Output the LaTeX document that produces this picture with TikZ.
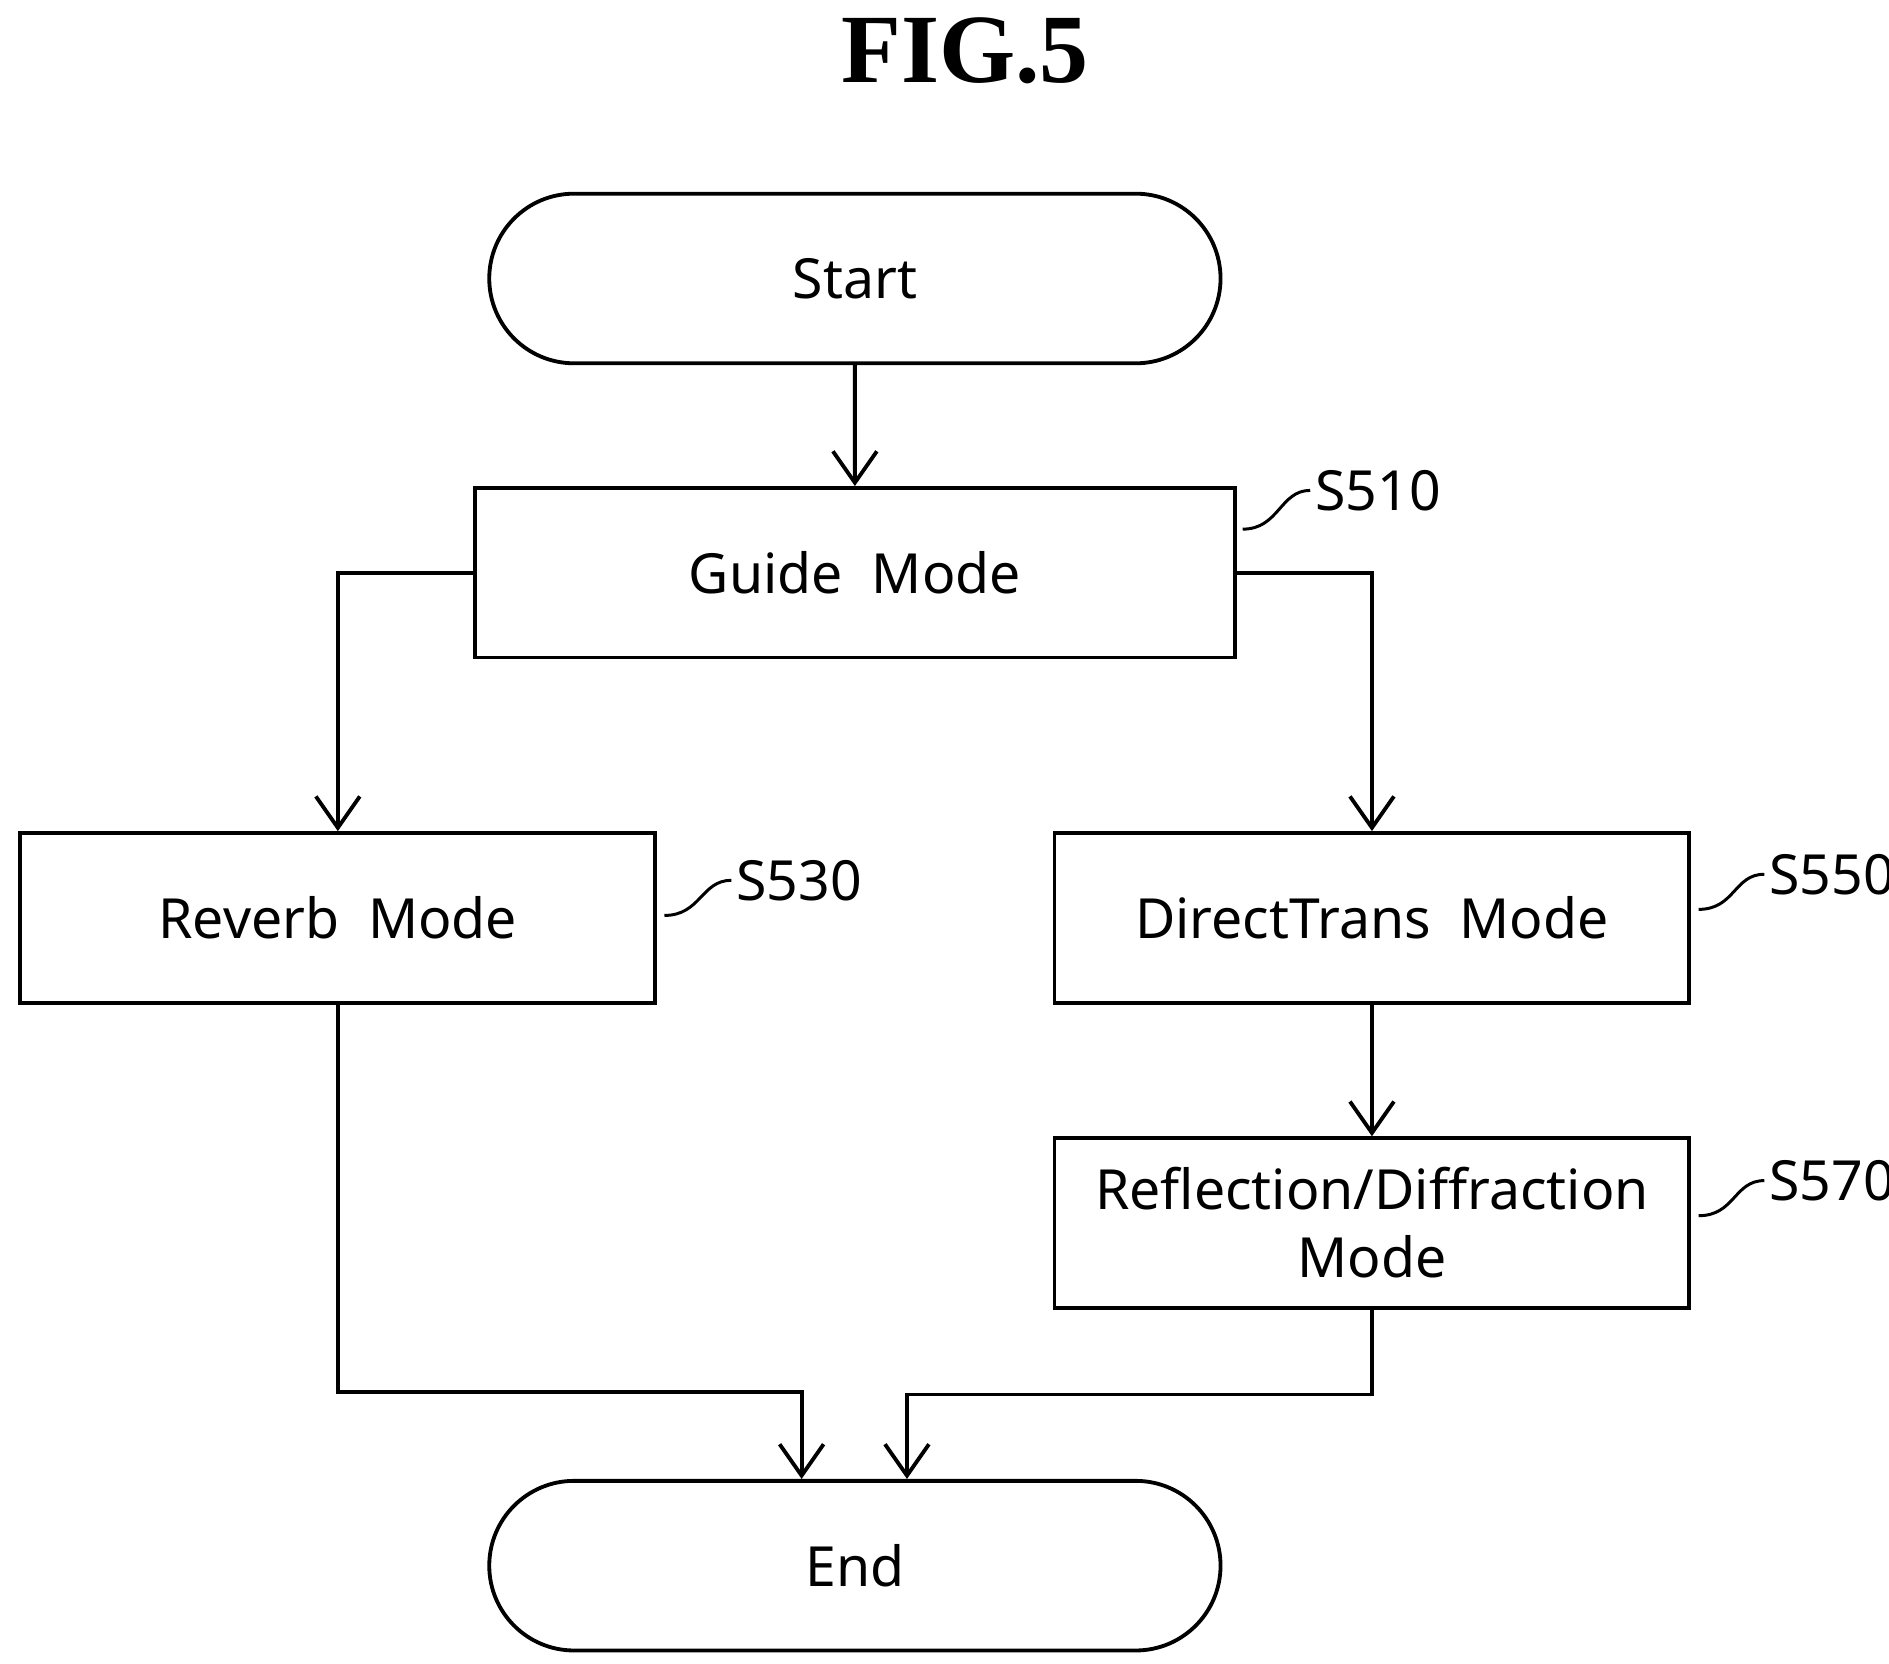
\documentclass[tikz,border=0pt]{standalone}
\usepackage{fontspec}
\setmainfont{Noto Sans}
\newfontfamily\titlefont{Liberation Serif}
\usetikzlibrary{positioning,calc,arrows.meta,shapes.misc}
\tikzset{
  %% terminal : start and end of the flow
  terminal/.style={
    rounded rectangle,
    draw=black,
    line width=0.9pt,
    minimum width=6.27cm,
    minimum height=1.4cm,
    font=\fontsize{13}{16}\selectfont,
    align=center
  },
  %% modestep : one mode of the flow
  modestep/.style={
    rectangle,
    draw=black,
    line width=0.9pt,
    minimum width=5.24cm,
    minimum height=1.4cm,
    font=\fontsize{13}{16}\selectfont,
    align=center
  },
  %% steplabel : the reference sign of a step
  steplabel/.style={
    font=\fontsize{13}{16}\selectfont,
    inner sep=1pt
  },
  %% flow : connector between steps
  flow/.style={line width=0.9pt, -{Straight Barb[angle=70:9pt, line width=0.9pt]}},
  %% tick : squiggle from a step to its label
  tick/.style={line width=0.7pt}
}
\begin{document}
\begin{tikzpicture}
  [x=0.01cm,
  y=-0.01cm]

  \useasboundingbox (0,0) rectangle (1560,1374);

  \node (title) at (797,42) {\titlefont\bfseries\fontsize{23}{26}\selectfont FIG.5};

  %% Main flow
  \node (start) [terminal, minimum width=6.27cm] at (706,230) {Start};
  \node (guide) [modestep, minimum width=6.27cm] at (706,473) {Guide~ Mode};
  \node (reverb) [modestep] at (279,758) {Reverb~ Mode};
  \node (direct) [modestep] at (1133,758) {DirectTrans~ Mode};
  \node (reflect) [modestep] at (1133,1010) {Reflection/Diffraction\\Mode};
  \node (stop) [terminal] at (706,1293) {End};

  %% Labels
  \node (s510) [steplabel, anchor=west] at (1082,405) {S510};
  \node (s530) [steplabel, anchor=west] at (604,727) {S530};
  \node (s550) [steplabel, anchor=west] at (1457,722) {S550};
  \node (s570) [steplabel, anchor=west] at (1457,975) {S570};
  \draw [tick] ($(guide.east)+(5,-36)$) .. controls +(30,0) and +(-25,0) .. (s510.west);
  \draw [tick] ($(reverb.east)+(6,-2)$) .. controls +(30,0) and +(-25,0) .. (s530.west);
  \draw [tick] ($(direct.east)+(6,-7)$) .. controls +(30,0) and +(-25,0) .. (s550.west);
  \draw [tick] ($(reflect.east)+(6,-6)$) .. controls +(30,0) and +(-25,0) .. (s570.west);

  %% Connections
  \draw [flow] (start) -- (guide);
  \draw [flow] (guide.west) -| (reverb.north);
  \draw [flow] (guide.east) -| (direct.north);
  \draw [flow] (direct) -- (reflect);
  \draw [flow] (reverb.south) -- ++(0,320) -| ($(stop.north)+(-44,0)$);
  \draw [flow] (reflect.south) -- ++(0,70) -| ($(stop.north)+(43,0)$);

\end{tikzpicture}
\end{document}
